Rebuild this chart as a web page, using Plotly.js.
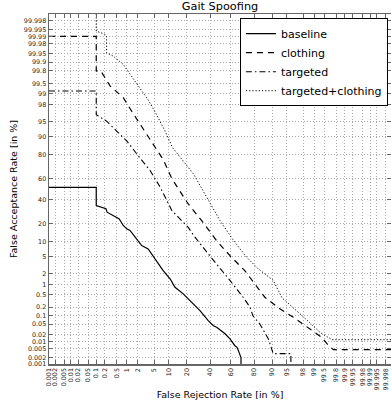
<!DOCTYPE html>
<html>
<head>
<meta charset="utf-8">
<script src="https://cdn.plot.ly/plotly-3.0.1.min.js"></script>
<style>html,body{margin:0;padding:0;background:#fff;}#chart{width:391px;height:406px;}</style>
</head>
<body>
<div id="chart"></div>
<script>
// ---- data (all in %) ----
const tickLabels = ['0.001','0.002','0.005','0.01','0.02','0.05','0.1','0.2','0.5','1','2','5','10','20','40','60','80','90','95','98','99','99.5','99.8','99.9','99.95','99.98','99.99','99.995','99.998'];

const baselineFRR = [0.001, 0.1, 0.1, 0.22, 0.24, 0.38, 0.59, 0.78, 0.98, 1.22, 1.67, 2.5, 3.6, 5.2, 7.7, 10.5, 12.9, 17.7, 22.4, 30.5, 38, 43, 46.2, 54.5, 59.3, 64, 66, 69.5, 69.5];
const baselineFAR = [51.5, 51.5, 34.4, 31.5, 28.6, 25.9, 23.3, 18.7, 16.6, 15.6, 12, 8.4, 7.2, 4.45, 2.34, 1.43, 0.83, 0.53, 0.33, 0.152, 0.067, 0.043, 0.038, 0.021, 0.013, 0.0067, 0.0057, 0.002, 0.001];

const clothingFRR = [0.001, 0.1, 0.1, 0.15, 0.3, 0.78, 1.36, 2.04, 2.74, 4.35, 7.8, 11.3, 21, 32, 46, 59.3, 72.9, 86.6, 93, 96.5, 98.5, 99.41, 99.6, 99.75, 99.999];
const clothingFAR = [99.99, 99.99, 99.8, 99.79, 99.4, 98.7, 97.1, 95.1, 92.7, 87.8, 76, 60, 36, 22, 10.5, 5.2, 2.3, 0.41, 0.175, 0.088, 0.038, 0.015, 0.008, 0.0045, 0.0045];

const targetedFRR = [0.001, 0.1, 0.1, 0.23, 0.49, 1.0, 2.0, 4.0, 6.7, 11.3, 21, 26.3, 38, 46.2, 59.3, 71.5, 76.8, 79, 83.6, 88.3, 89.8, 90.5, 96, 96];
const targetedFAR = [99.15, 99.15, 96.5, 95.1, 92.1, 87.8, 79.4, 67.4, 51.7, 30, 17.6, 12, 5.7, 3.4, 1.29, 0.41, 0.2, 0.1, 0.05, 0.013, 0.0057, 0.003, 0.003, 0.001];

const tcFRR = [0.1, 0.1, 0.2, 0.23, 0.23, 0.38, 0.78, 1.36, 2.3, 3.6, 5.6, 8.4, 11.6, 25, 49.5, 62.6, 74.3, 82.5, 90.5, 93.7, 98, 99.33, 99.72, 99.999];
const tcFAR = [99.999, 99.994, 99.992, 99.99, 99.955, 99.94, 99.88, 99.70, 99.32, 98.5, 96.5, 92.1, 84.4, 64.5, 22.1, 10.5, 4.8, 2.6, 1.3, 0.4, 0.094, 0.024, 0.012, 0.012];

// ---- normal deviate (probit) scale ----
function ppf(p) {
  const a=[-3.969683028665376e+01,2.209460984245205e+02,-2.759285104469687e+02,1.383577518672690e+02,-3.066479806614716e+01,2.506628277459239e+00];
  const b=[-5.447609879822406e+01,1.615858368580409e+02,-1.556989798598866e+02,6.680131188771972e+01,-1.328068155288572e+01];
  const c=[-7.784894002430293e-03,-3.223964580411365e-01,-2.400758277161838e+00,-2.549732539343734e+00,4.374664141464968e+00,2.938163982698783e+00];
  const d=[7.784695709041462e-03,3.224671290700398e-01,2.445134137142996e+00,3.754408661907416e+00];
  const pl=0.02425, ph=1-pl; let q,r;
  if(p<pl){q=Math.sqrt(-2*Math.log(p));return (((((c[0]*q+c[1])*q+c[2])*q+c[3])*q+c[4])*q+c[5])/((((d[0]*q+d[1])*q+d[2])*q+d[3])*q+1);}
  if(p<=ph){q=p-0.5;r=q*q;return (((((a[0]*r+a[1])*r+a[2])*r+a[3])*r+a[4])*r+a[5])*q/(((((b[0]*r+b[1])*r+b[2])*r+b[3])*r+b[4])*r+1);}
  q=Math.sqrt(-2*Math.log(1-p));return -(((((c[0]*q+c[1])*q+c[2])*q+c[3])*q+c[4])*q+c[5])/((((d[0]*q+d[1])*q+d[2])*q+d[3])*q+1);
}
const P = arr => arr.map(v => ppf(v/100));
const tickVals = P(tickLabels.map(Number));

const FONT = 'DejaVu Sans, sans-serif';
function tr(name, xs, ys, dash, width) {
  return {type:'scatter', mode:'lines', name:name, x:P(xs), y:P(ys),
    line:{color:'#000', width:width, dash:dash}, hoverinfo:'skip'};
}
const data = [
  tr('baseline', baselineFRR, baselineFAR, 'solid', 1.2),
  tr('clothing', clothingFRR, clothingFAR, '6px,5px', 1.2),
  tr('targeted', targetedFRR, targetedFAR, '6px,3px,1.5px,3px', 1.1),
  tr('targeted+clothing', tcFRR, tcFAR, '1.2px,2px', 1.0)
];

const axisCommon = {
  tickmode:'array', tickvals:tickVals, ticktext:tickLabels,
  showline:true, linecolor:'#666', linewidth:1.5, mirror:'ticks',
  ticks:'inside', ticklen:4, tickcolor:'#666', tickwidth:1,
  showgrid:true, gridcolor:'#aaa', griddash:'1px,2px', gridwidth:1,
  zeroline:false, tickfont:{family:FONT, size:6.4, color:'#222'}
};

const layout = {
  width:391, height:406,
  margin:{l:49, r:0, t:14, b:42},
  paper_bgcolor:'#fff', plot_bgcolor:'#fff',
  font:{family:FONT, color:'#000'},
  title:{text:'Gait Spoofing', font:{family:FONT, size:11.3, color:'#000'},
         x:0.5, xref:'paper', y:0.984, yref:'container', yanchor:'middle', pad:{t:0,b:0}},
  xaxis:Object.assign({}, axisCommon, {
    range:[ppf(0.00001), 4.24], tickangle:-90,
    title:{text:'False Rejection Rate [in %]', font:{family:FONT, size:9.5, color:'#000'}, standoff:2}
  }),
  yaxis:Object.assign({}, axisCommon, {
    range:[ppf(0.00001), -ppf(0.00001)],
    title:{text:'False Acceptance Rate [in %]', font:{family:FONT, size:9.5, color:'#000'}, standoff:4}
  }),
  showlegend:true,
  legend:{x:0.991, xanchor:'right', y:0.988, yanchor:'top',
    bgcolor:'#fff', bordercolor:'#000', borderwidth:1,
    font:{family:FONT, size:11, color:'#000'}, tracegroupgap:0}
};

Plotly.newPlot('chart', data, layout, {staticPlot:true, displayModeBar:false});
</script>
</body>
</html>
